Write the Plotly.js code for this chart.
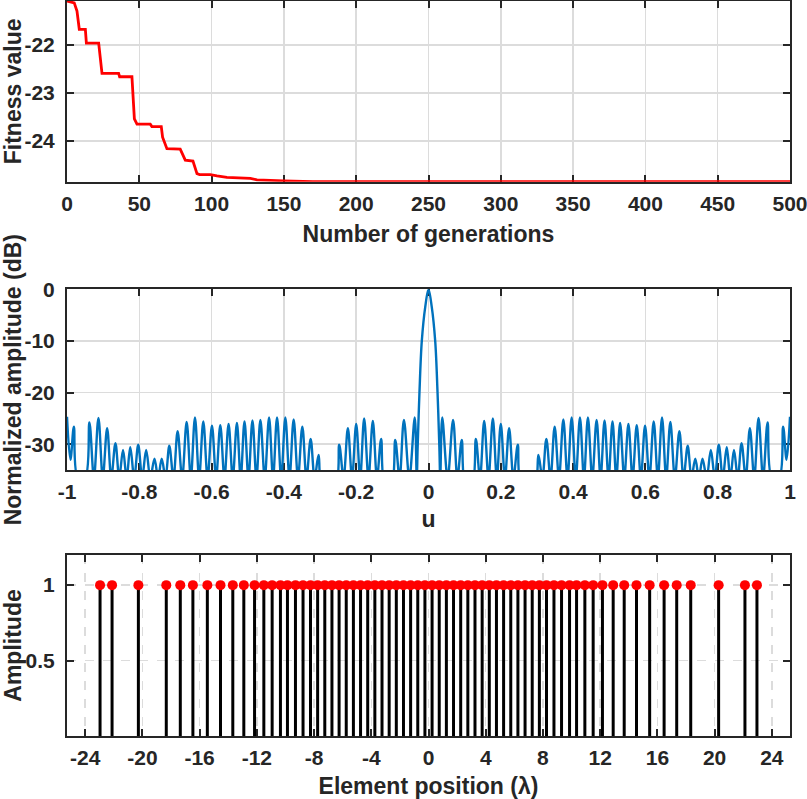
<!DOCTYPE html>
<html><head><meta charset="utf-8">
<script src="https://cdn.plot.ly/plotly-3.0.1.min.js"></script>
<style>html,body{margin:0;padding:0;background:#fff}#chart{width:807px;height:799px}</style>
</head><body><div id="chart"></div>
<script>
// ---- Panel 1: convergence curve ----
const generations = [0, 5, 6.9, 8.5, 12.7, 13.4, 21.9, 23, 24.2, 35.7, 36.4, 44.9, 46.1, 46.6, 48.4, 57.6, 58.7, 65.2, 66.1, 69.1, 78.3, 80.2, 81.8, 87.1, 89.9, 91.7, 99.1, 103.7, 110.6, 126.8, 131.4, 149.8, 170, 500];
const fitness = [-21.08, -21.12, -21.29, -21.67, -21.67, -21.96, -21.96, -22.29, -22.59, -22.59, -22.66, -22.66, -23.45, -23.54, -23.65, -23.65, -23.70, -23.70, -23.92, -24.16, -24.17, -24.28, -24.40, -24.42, -24.68, -24.70, -24.70, -24.73, -24.76, -24.78, -24.81, -24.83, -24.85, -24.85];
const genTicks = [0, 50, 100, 150, 200, 250, 300, 350, 400, 450, 500];
const fitTicks = [-24, -23, -22];
const fitTickText = ['-24', '-23', '-22'];

// ---- Panel 2: array pattern ----
const patternU = [-1.0, -0.9905, -0.981, -0.970, -0.950, -0.938, -0.9255, -0.913, -0.901, -0.889, -0.8775, -0.866, -0.8555, -0.845, -0.835, -0.825, -0.814, -0.803, -0.792, -0.781, -0.7695, -0.758, -0.748, -0.738, -0.7275, -0.717, -0.7055, -0.694, -0.6815, -0.669, -0.6575, -0.646, -0.6345, -0.623, -0.611, -0.599, -0.5875, -0.576, -0.5645, -0.553, -0.5415, -0.530, -0.5195, -0.509, -0.498, -0.487, -0.476, -0.465, -0.453, -0.441, -0.430, -0.419, -0.4075, -0.396, -0.3845, -0.373, -0.361, -0.349, -0.3375, -0.326, -0.315, -0.304, -0.293, -0.258, -0.247, -0.235, -0.223, -0.2115, -0.200, -0.189, -0.178, -0.166, -0.154, -0.1425, -0.131, -0.120, -0.103, -0.092, -0.080, -0.068, -0.053, -0.038, -0.0325, -0.030, -0.025, -0.0185, -0.009, 0,
  0.009, 0.0185, 0.025, 0.030, 0.0325, 0.038, 0.053, 0.068, 0.080, 0.092, 0.103, 0.120, 0.131, 0.1425, 0.154, 0.166, 0.178, 0.189, 0.200, 0.2115, 0.223, 0.235, 0.247, 0.258, 0.293, 0.304, 0.315, 0.326, 0.3375, 0.349, 0.361, 0.373, 0.3845, 0.396, 0.4075, 0.419, 0.430, 0.441, 0.453, 0.465, 0.476, 0.487, 0.498, 0.509, 0.5195, 0.530, 0.5415, 0.553, 0.5645, 0.576, 0.5875, 0.599, 0.611, 0.623, 0.6345, 0.646, 0.6575, 0.669, 0.6815, 0.694, 0.7055, 0.717, 0.7275, 0.738, 0.748, 0.758, 0.7695, 0.781, 0.792, 0.803, 0.814, 0.825, 0.835, 0.845, 0.8555, 0.866, 0.8775, 0.889, 0.901, 0.913, 0.9255, 0.938, 0.950, 0.970, 0.981, 0.9905, 1.0];
const patternDb = [-24.7, -33, -26.6, -36.5, -36.5, -25.8, -36.5, -24.9, -36.5, -26.9, -36.5, -29.8, -36.5, -31.1, -36.5, -30.6, -36.5, -30.1, -36.5, -31.1, -36.5, -32.8, -36.5, -32.8, -36.5, -30.3, -36.5, -27.5, -36.5, -25.7, -36.5, -24.8, -36.5, -25.6, -36.5, -26.4, -36.5, -26.3, -36.5, -26.1, -36.5, -25.9, -36.5, -25.6, -36.5, -25.4, -36.5, -25.3, -36.5, -24.8, -36.5, -24.8, -36.5, -24.8, -36.5, -25.2, -36.5, -26.6, -36.5, -29.0, -36.5, -32.1, -38, -38, -30.1, -36.5, -26.9, -36.5, -26.1, -36.5, -25.0, -36.5, -25.5, -36.5, -29.0, -38, -38, -29.2, -36.5, -25.3, -36.5, -24.8, -36.5, -30.5, -20, -10, -3.4, 0,
  -3.4, -10, -20, -30.5, -36.5, -24.8, -36.5, -25.3, -36.5, -29.2, -38, -38, -29.0, -36.5, -25.5, -36.5, -25.0, -36.5, -26.1, -36.5, -26.9, -36.5, -30.1, -38, -38, -32.1, -36.5, -29.0, -36.5, -26.6, -36.5, -25.2, -36.5, -24.8, -36.5, -24.8, -36.5, -24.8, -36.5, -25.3, -36.5, -25.4, -36.5, -25.6, -36.5, -25.9, -36.5, -26.1, -36.5, -26.3, -36.5, -26.4, -36.5, -25.6, -36.5, -24.8, -36.5, -25.7, -36.5, -27.5, -36.5, -30.3, -36.5, -32.8, -36.5, -32.8, -36.5, -31.1, -36.5, -30.1, -36.5, -30.6, -36.5, -31.1, -36.5, -29.8, -36.5, -26.9, -36.5, -24.9, -36.5, -25.8, -36.5, -36.5, -26.6, -33, -24.7];
const uTicks = [-1, -0.8, -0.6, -0.4, -0.2, 0, 0.2, 0.4, 0.6, 0.8, 1];
const uTickText = ['-1', '-0.8', '-0.6', '-0.4', '-0.2', '0', '0.2', '0.4', '0.6', '0.8', '1'];
const dbTicks = [-30, -20, -10, 0];
const dbTickText = ['-30', '-20', '-10', '0'];

// ---- Panel 3: element positions ----
const elementPos = [-22.96, -22.12, -20.28, -18.33, -17.35, -16.47, -15.46, -14.54, -13.68, -12.91, -12.16, -11.51, -10.93, -10.35, -9.86, -9.3, -8.77, -8.25, -7.75, -7.25, -6.75, -6.25, -5.75, -5.25, -4.75, -4.25, -3.75, -3.25, -2.75, -2.25, -1.75, -1.25, -0.75, -0.25,
  0.25, 0.75, 1.25, 1.75, 2.25, 2.75, 3.25, 3.75, 4.25, 4.75, 5.25, 5.75, 6.25, 6.75, 7.25, 7.75, 8.25, 8.77, 9.3, 9.86, 10.35, 10.93, 11.51, 12.16, 12.91, 13.68, 14.54, 15.46, 16.47, 17.35, 18.33, 20.28, 22.12, 22.96];
const elementAmp = [1, 1, 1, 1, 1, 1, 1, 1, 1, 1, 1, 1, 1, 1, 1, 1, 1, 1, 1, 1, 1, 1, 1, 1, 1, 1, 1, 1, 1, 1, 1, 1, 1, 1,
  1, 1, 1, 1, 1, 1, 1, 1, 1, 1, 1, 1, 1, 1, 1, 1, 1, 1, 1, 1, 1, 1, 1, 1, 1, 1, 1, 1, 1, 1, 1, 1, 1, 1];
const posTicks = [-24, -20, -16, -12, -8, -4, 0, 4, 8, 12, 16, 20, 24];
const posTickText = ['-24', '-20', '-16', '-12', '-8', '-4', '0', '4', '8', '12', '16', '20', '24'];
const ampTicks = [0.5, 1];
const ampTickText = ['0.5', '1'];

// ---- build stems ----
const stemX = [], stemY = [];
elementPos.forEach((p, i) => { stemX.push(p, p, null); stemY.push(0, elementAmp[i], null); });

const FONT = 'Liberation Sans, Arial, Helvetica, sans-serif';
const DARK = '#262626';
const tickFont = {family: FONT, size: 21, color: DARK, weight: 'bold'};
const titleFont = {family: FONT, size: 23, color: DARK, weight: 'bold'};

function ax(extra) {
  return Object.assign({
    showline: true, linecolor: DARK, linewidth: 2, mirror: 'ticks',
    ticks: 'inside', ticklen: 7, tickwidth: 2, tickcolor: DARK,
    showgrid: true, gridcolor: '#dcdcdc', gridwidth: 1.5,
    zeroline: false, tickfont: tickFont, layer: 'below traces',
    tickmode: 'array', fixedrange: true, ticklabeloverflow: 'allow'
  }, extra);
}

const data = [
  {x: generations, y: fitness, type: 'scatter', mode: 'lines', line: {color: '#ff0000', width: 2.8}, xaxis: 'x', yaxis: 'y', hoverinfo: 'skip'},
  {x: patternU, y: patternDb, type: 'scatter', mode: 'lines', line: {color: '#0072bd', width: 2.4, shape: 'spline', smoothing: 1}, xaxis: 'x2', yaxis: 'y2', hoverinfo: 'skip'},
  {x: stemX, y: stemY, type: 'scatter', mode: 'lines', line: {color: '#000000', width: 3}, xaxis: 'x3', yaxis: 'y3', hoverinfo: 'skip', connectgaps: false},
  {x: elementPos, y: elementAmp, type: 'scatter', mode: 'markers', marker: {color: '#ff0000', size: 10}, xaxis: 'x3', yaxis: 'y3', hoverinfo: 'skip', cliponaxis: false}
];

const layout = {
  width: 807, height: 799,
  margin: {l: 67, r: 17, t: 1, b: 63},
  paper_bgcolor: '#ffffff', plot_bgcolor: '#ffffff',
  showlegend: false,
  font: {family: FONT, size: 21, color: DARK, weight: 'bold'},
  xaxis: ax({domain: [0, 1], anchor: 'y', range: [0, 500], tickvals: genTicks, ticktext: genTicks.map(String), ticklabelstandoff: 2,
    title: {text: 'Number of generations', font: titleFont, standoff: 12}}),
  yaxis: ax({domain: [0.7541, 1], anchor: 'x', range: [-24.85, -21.08], tickvals: fitTicks, ticktext: fitTickText, ticklabelstandoff: 6,
    title: {text: 'Fitness value', font: titleFont, standoff: 4}}),
  xaxis2: ax({domain: [0, 1], anchor: 'y2', range: [-1, 1], tickvals: uTicks, ticktext: uTickText, ticklabelstandoff: 2,
    title: {text: 'u', font: titleFont, standoff: 9}}),
  yaxis2: ax({domain: [0.3619, 0.6077], anchor: 'x2', range: [-35, 0], tickvals: dbTicks, ticktext: dbTickText, ticklabelstandoff: 6,
    title: {text: 'Normalized amplitude (dB)', font: titleFont, standoff: 4}}),
  xaxis3: ax({domain: [0, 1], anchor: 'y3', range: [-25.27, 25.27], tickvals: posTicks, ticktext: posTickText, ticklabelstandoff: 2,
    griddash: 'dash', title: {text: 'Element position (λ)', font: titleFont, standoff: 10}}),
  yaxis3: ax({domain: [0, 0.2463], anchor: 'x3', range: [0, 1.2], tickvals: ampTicks, ticktext: ampTickText, ticklabelstandoff: 6,
    griddash: 'dash', title: {text: 'Amplitude', font: titleFont, standoff: 4}})
};

Plotly.newPlot('chart', data, layout, {displayModeBar: false, staticPlot: true});
</script>
</body></html>
